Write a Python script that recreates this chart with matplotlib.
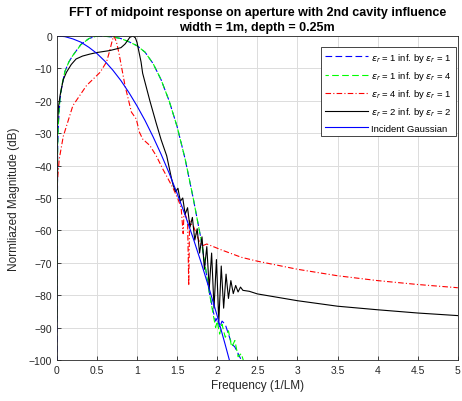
import matplotlib
matplotlib.use("Agg")
import matplotlib.pyplot as plt

# ---------------- data ----------------
f_gauss = [0, 0.1, 0.2, 0.3, 0.4, 0.5, 0.6, 0.7, 0.8, 0.9, 1.0, 1.1, 1.2, 1.3,
           1.4, 1.5, 1.6, 1.7, 1.8, 1.9, 2.0, 2.1, 2.2]
db_gauss = [0, -0.2, -0.9, -1.9, -3.5, -5.4, -7.8, -10.6, -13.8, -17.5, -21.6,
            -26.1, -31.1, -36.5, -42.3, -48.6, -55.3, -62.4, -70.0, -78.0,
            -86.4, -95.3, -104.5]

f_e1e4 = [0, 0.01, 0.02, 0.04, 0.06, 0.1, 0.15, 0.2, 0.3, 0.4, 0.5, 0.6, 0.7,
          0.8, 0.9, 1.0, 1.1, 1.2, 1.3, 1.4, 1.5, 1.6, 1.7, 1.8, 1.85, 1.9,
          1.95, 1.98, 2.0, 2.03, 2.06, 2.1, 2.14, 2.18, 2.22, 2.26, 2.3, 2.36]
db_e1e4 = [-88, -34, -26, -19, -15.5, -11, -8, -6, -2.7, -0.8, 0, -0.1, -0.3,
           -0.8, -1.8, -3, -5, -8.5, -13.5, -20, -28, -38, -50, -63, -71, -79,
           -86, -90, -88, -92, -89, -93, -91, -96, -94, -99, -98, -103]

f_e1e1 = f_e1e4
db_e1e1 = [-110, -35, -27, -19.5, -16, -11, -8, -6, -2.6, -0.8, 0, -0.1, -0.3,
           -0.8, -1.8, -3, -5, -8.5, -13.5, -20, -28, -38, -50, -63, -71, -79,
           -85, -88, -87, -90, -88, -89, -92, -95, -96, -98, -100, -104]

f_e4e1 = [0, 0.01, 0.03, 0.08, 0.2, 0.37, 0.54, 0.62, 0.66, 0.69, 0.71, 0.73,
          0.75, 0.78, 0.85, 0.93, 0.99, 1.03, 1.07, 1.16, 1.24, 1.32, 1.45,
          1.51, 1.55, 1.575, 1.585, 1.6, 1.63, 1.645, 1.655, 1.67, 1.7, 1.78,
          1.82, 1.87, 1.95, 2.05, 2.3, 2.5, 3.0, 3.5, 4.0, 4.5, 5.0]
db_e4e1 = [-47, -44, -38, -31, -21.5, -15.3, -11.2, -8, -4.5, -1.5, 0, -1,
           -2.5, -6, -15.3, -23.5, -25.6, -29.7, -31.8, -33.8, -37, -41, -47,
           -50.3, -53, -61, -55, -55, -57, -77, -57, -58, -58.5, -63.7, -64.7,
           -64.2, -65, -66, -68.3, -69.5, -72, -74, -75.5, -76.7, -77.7]

f_e2e2 = [0, 0.005, 0.02, 0.04, 0.08, 0.12, 0.18, 0.24, 0.32, 0.41, 0.5, 0.58,
          0.66, 0.74, 0.8, 0.85, 0.88, 0.91, 0.95, 0.98, 1.0, 1.05, 1.07, 1.16,
          1.24, 1.3, 1.37, 1.43, 1.45, 1.48, 1.51, 1.54, 1.57, 1.60, 1.63,
          1.66, 1.69, 1.72, 1.75, 1.78, 1.81, 1.84, 1.87, 1.90, 1.93, 1.96,
          1.99, 2.02, 2.05, 2.08, 2.11, 2.14, 2.17, 2.20, 2.23, 2.26, 2.29,
          2.32, 2.4, 2.5, 3.0, 3.5, 4.0, 4.5, 5.0]
db_e2e2 = [-87, -29, -22, -18.4, -13.5, -11.2, -8.8, -7.1, -6.2, -5.6, -5.1,
           -4.8, -4.5, -4.0, -3.6, -2.5, -1.5, -0.4, 0, -0.6, -2, -8, -11.5,
           -20, -27, -32, -37, -44, -46, -48, -47, -51, -50, -55, -53, -59,
           -56, -63, -59.5, -67, -62, -72, -65, -78, -67, -84, -69, -88, -71,
           -84, -73.5, -81, -75.5, -79.5, -77, -79, -77.5, -78.5, -78.8,
           -79.6, -81.7, -83.4, -84.5, -85.5, -86.3]

labels = [r'$\epsilon_r$ = 1 inf. by $\epsilon_r$ = 1',
          r'$\epsilon_r$ = 1 inf. by $\epsilon_r$ = 4',
          r'$\epsilon_r$ = 4 inf. by $\epsilon_r$ = 1',
          r'$\epsilon_r$ = 2 inf. by $\epsilon_r$ = 2',
          'Incident Gaussian']

x_ticks = [0, 0.5, 1, 1.5, 2, 2.5, 3, 3.5, 4, 4.5, 5]
x_ticklabels = ['0', '0.5', '1', '1.5', '2', '2.5', '3', '3.5', '4', '4.5', '5']
y_ticks = [0, -10, -20, -30, -40, -50, -60, -70, -80, -90, -100]

# ---------------- figure ----------------
plt.rcParams['font.family'] = ['Liberation Sans', 'DejaVu Sans']
plt.rcParams['mathtext.fontset'] = 'dejavusans'

fig = plt.figure(figsize=(4.62, 4.02), dpi=100)
ax = fig.add_axes([0.123, 0.102, 0.868, 0.806])

lw = 0.8
ax.plot(f_e1e1, db_e1e1, color='#0000ff', linestyle=(0, (6, 3)), lw=lw, label=labels[0])
ax.plot(f_e1e4, db_e1e4, color='#00ff00', linestyle=(3, (6, 3)), lw=lw, label=labels[1])
ax.plot(f_e4e1, db_e4e1, color='#ff0000', linestyle=(0, (5, 2, 1, 2)), lw=lw, label=labels[2])
ax.plot(f_e2e2, db_e2e2, color='black', linestyle='-', lw=lw, label=labels[3])
ax.plot(f_gauss, db_gauss, color='#0000ff', linestyle='-', lw=lw, label=labels[4])

ax.set_xlim(0, 5)
ax.set_ylim(-100, 0)
ax.set_xticks(x_ticks)
ax.set_xticklabels(x_ticklabels)
ax.set_yticks(y_ticks)
ax.grid(True, color='#dcdcdc', linewidth=0.7)
ax.set_axisbelow(True)
ax.tick_params(direction='in', labelsize=7.5, colors='#262626', length=3, width=0.6)
for s in ax.spines.values():
    s.set_color('#262626')
    s.set_linewidth(0.6)

ax.set_xlabel('Frequency (1/LM)', fontsize=8.5, color='#262626', labelpad=3)
ax.set_ylabel('Normliazed Magnitude (dB)', fontsize=8.5, color='#262626', labelpad=6)
ax.set_title('FFT of midpoint response on aperture with 2nd cavity influence\n'
             'width = 1m, depth = 0.25m', fontsize=9, fontweight='bold', pad=4,
             linespacing=1.35)

leg = ax.legend(loc='upper right', bbox_to_anchor=(0.995, 0.966), borderaxespad=0,
                fontsize=6.8, fancybox=False, framealpha=1,
                edgecolor='#262626', handlelength=4.5, labelspacing=0.55,
                handletextpad=0.4)
leg.get_frame().set_linewidth(0.6)

fig.savefig('out.png', dpi=100)
